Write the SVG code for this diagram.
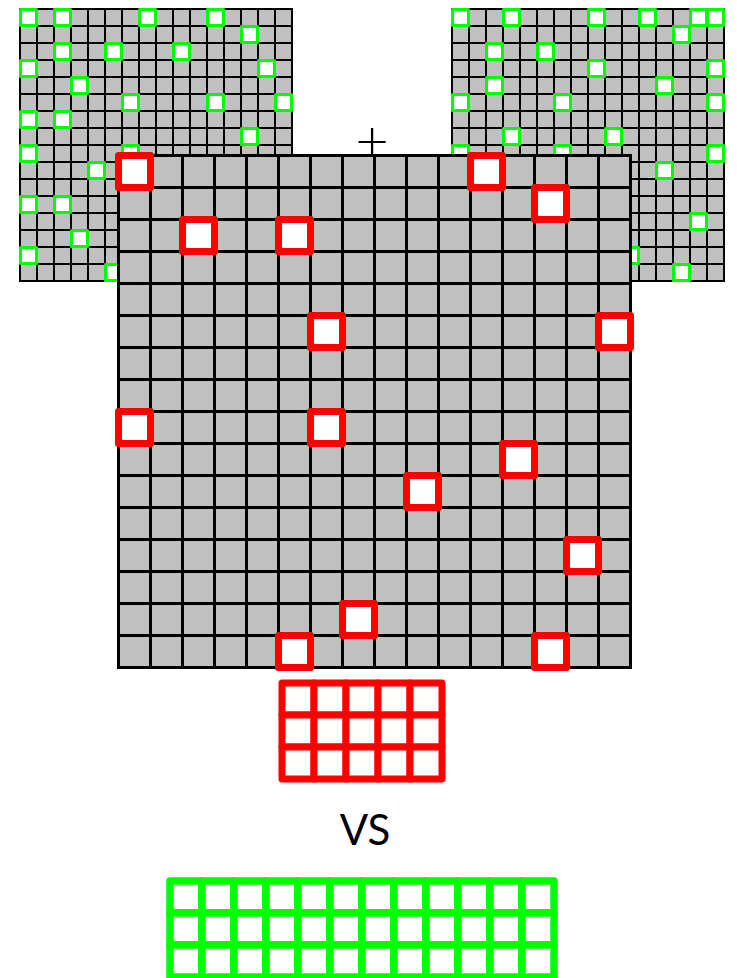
<svg xmlns="http://www.w3.org/2000/svg" width="737" height="978" viewBox="0 0 737 978">
<style>
.bg{fill:#ffffff}
.sgrid{fill:#c0c0c0;stroke:#000;stroke-width:2}
.slines{fill:none;stroke:#000;stroke-width:2}
.mgrid{fill:#c0c0c0;stroke:#000;stroke-width:3}
.mlines{fill:none;stroke:#000;stroke-width:3}
.gm{fill:#fff;stroke:#00ff00;stroke-width:3;stroke-linejoin:round}
.rm{fill:#fff;stroke:#ff0000;stroke-width:7;stroke-linejoin:round}
.gk{fill:#fff;stroke:#00ff00;stroke-width:7.5;stroke-linejoin:round}
.label{font-family:Lato,"Liberation Sans",sans-serif;fill:#000}
</style>
<defs>
<rect id="g" width="16" height="16" class="gm"/>
<rect id="r" width="32" height="32" class="rm"/>
<rect id="k" width="32" height="32" class="gk"/>
</defs>
<rect class="bg" x="0" y="0" width="737" height="978"/>

<g id="left-grid">
<rect class="sgrid" x="20" y="9" width="272" height="272"/>
<path class="slines" d="M37 9V281M54 9V281M71 9V281M88 9V281M105 9V281M122 9V281M139 9V281M156 9V281M173 9V281M190 9V281M207 9V281M224 9V281M241 9V281M258 9V281M275 9V281M20 26H292M20 43H292M20 60H292M20 77H292M20 94H292M20 111H292M20 128H292M20 145H292M20 162H292M20 179H292M20 196H292M20 213H292M20 230H292M20 247H292M20 264H292"/>
<use href="#g" x="20.5" y="9.5"/><use href="#g" x="54.5" y="9.5"/><use href="#g" x="139.5" y="9.5"/><use href="#g" x="207.5" y="9.5"/>
<use href="#g" x="241.5" y="26.5"/>
<use href="#g" x="54.5" y="43.5"/><use href="#g" x="105.5" y="43.5"/><use href="#g" x="173.5" y="43.5"/>
<use href="#g" x="20.5" y="60.5"/><use href="#g" x="258.5" y="60.5"/>
<use href="#g" x="71.5" y="77.5"/>
<use href="#g" x="122.5" y="94.5"/><use href="#g" x="207.5" y="94.5"/><use href="#g" x="275.5" y="94.5"/>
<use href="#g" x="20.5" y="111.5"/><use href="#g" x="54.5" y="111.5"/>
<use href="#g" x="241.5" y="128.5"/>
<use href="#g" x="20.5" y="145.5"/><use href="#g" x="122.5" y="145.5"/>
<use href="#g" x="88.5" y="162.5"/>
<use href="#g" x="20.5" y="196.5"/><use href="#g" x="54.5" y="196.5"/>
<use href="#g" x="71.5" y="230.5"/>
<use href="#g" x="20.5" y="247.5"/>
<use href="#g" x="105.5" y="264.5"/>
</g>

<g id="right-grid">
<rect class="sgrid" x="452" y="9" width="272" height="272"/>
<path class="slines" d="M469 9V281M486 9V281M503 9V281M520 9V281M537 9V281M554 9V281M571 9V281M588 9V281M605 9V281M622 9V281M639 9V281M656 9V281M673 9V281M690 9V281M707 9V281M452 26H724M452 43H724M452 60H724M452 77H724M452 94H724M452 111H724M452 128H724M452 145H724M452 162H724M452 179H724M452 196H724M452 213H724M452 230H724M452 247H724M452 264H724"/>
<use href="#g" x="452.5" y="9.5"/><use href="#g" x="503.5" y="9.5"/><use href="#g" x="588.5" y="9.5"/><use href="#g" x="639.5" y="9.5"/><use href="#g" x="690.5" y="9.5"/><use href="#g" x="707.5" y="9.5"/>
<use href="#g" x="673.5" y="26.5"/>
<use href="#g" x="486.5" y="43.5"/><use href="#g" x="537.5" y="43.5"/>
<use href="#g" x="588.5" y="60.5"/><use href="#g" x="707.5" y="60.5"/>
<use href="#g" x="486.5" y="77.5"/><use href="#g" x="656.5" y="77.5"/>
<use href="#g" x="452.5" y="94.5"/><use href="#g" x="554.5" y="94.5"/><use href="#g" x="707.5" y="94.5"/>
<use href="#g" x="503.5" y="128.5"/><use href="#g" x="605.5" y="128.5"/>
<use href="#g" x="452.5" y="145.5"/><use href="#g" x="554.5" y="145.5"/><use href="#g" x="707.5" y="145.5"/>
<use href="#g" x="656.5" y="162.5"/>
<use href="#g" x="690.5" y="213.5"/>
<use href="#g" x="622.5" y="247.5"/>
<use href="#g" x="673.5" y="264.5"/>
</g>

<g id="plus">
<text class="label" x="372" y="161" font-size="58" font-weight="300" text-anchor="middle">+</text>
</g>

<g id="main-grid">
<rect class="mgrid" x="118.5" y="155.5" width="512" height="512"/>
<path class="mlines" d="M150.5 155.5V667.5M182.5 155.5V667.5M214.5 155.5V667.5M246.5 155.5V667.5M278.5 155.5V667.5M310.5 155.5V667.5M342.5 155.5V667.5M374.5 155.5V667.5M406.5 155.5V667.5M438.5 155.5V667.5M470.5 155.5V667.5M502.5 155.5V667.5M534.5 155.5V667.5M566.5 155.5V667.5M598.5 155.5V667.5M118.5 187.5H630.5M118.5 219.5H630.5M118.5 251.5H630.5M118.5 283.5H630.5M118.5 315.5H630.5M118.5 347.5H630.5M118.5 379.5H630.5M118.5 411.5H630.5M118.5 443.5H630.5M118.5 475.5H630.5M118.5 507.5H630.5M118.5 539.5H630.5M118.5 571.5H630.5M118.5 603.5H630.5M118.5 635.5H630.5"/>
<use href="#r" x="118.5" y="155.5"/>
<use href="#r" x="470.5" y="155.5"/>
<use href="#r" x="534.5" y="187.5"/>
<use href="#r" x="182.5" y="219.5"/>
<use href="#r" x="278.5" y="219.5"/>
<use href="#r" x="310.5" y="315.5"/>
<use href="#r" x="598.5" y="315.5"/>
<use href="#r" x="118.5" y="411.5"/>
<use href="#r" x="310.5" y="411.5"/>
<use href="#r" x="502.5" y="443.5"/>
<use href="#r" x="406.5" y="475.5"/>
<use href="#r" x="566.5" y="539.5"/>
<use href="#r" x="342.5" y="603.5"/>
<use href="#r" x="278.5" y="635.5"/>
<use href="#r" x="534.5" y="635.5"/>
</g>

<g id="red-set">
<use href="#r" x="282" y="683"/><use href="#r" x="314" y="683"/><use href="#r" x="346" y="683"/><use href="#r" x="378" y="683"/><use href="#r" x="410" y="683"/>
<use href="#r" x="282" y="715"/><use href="#r" x="314" y="715"/><use href="#r" x="346" y="715"/><use href="#r" x="378" y="715"/><use href="#r" x="410" y="715"/>
<use href="#r" x="282" y="747"/><use href="#r" x="314" y="747"/><use href="#r" x="346" y="747"/><use href="#r" x="378" y="747"/><use href="#r" x="410" y="747"/>
</g>

<g id="vs-label">
<text class="label" x="365" y="845" font-size="42" text-anchor="middle">VS</text>
</g>

<g id="green-set">
<use href="#k" x="170" y="881"/><use href="#k" x="202" y="881"/><use href="#k" x="234" y="881"/><use href="#k" x="266" y="881"/><use href="#k" x="298" y="881"/><use href="#k" x="330" y="881"/><use href="#k" x="362" y="881"/><use href="#k" x="394" y="881"/><use href="#k" x="426" y="881"/><use href="#k" x="458" y="881"/><use href="#k" x="490" y="881"/><use href="#k" x="522" y="881"/>
<use href="#k" x="170" y="913"/><use href="#k" x="202" y="913"/><use href="#k" x="234" y="913"/><use href="#k" x="266" y="913"/><use href="#k" x="298" y="913"/><use href="#k" x="330" y="913"/><use href="#k" x="362" y="913"/><use href="#k" x="394" y="913"/><use href="#k" x="426" y="913"/><use href="#k" x="458" y="913"/><use href="#k" x="490" y="913"/><use href="#k" x="522" y="913"/>
<use href="#k" x="170" y="945"/><use href="#k" x="202" y="945"/><use href="#k" x="234" y="945"/><use href="#k" x="266" y="945"/><use href="#k" x="298" y="945"/><use href="#k" x="330" y="945"/><use href="#k" x="362" y="945"/><use href="#k" x="394" y="945"/><use href="#k" x="426" y="945"/><use href="#k" x="458" y="945"/><use href="#k" x="490" y="945"/><use href="#k" x="522" y="945"/>
</g>
</svg>
